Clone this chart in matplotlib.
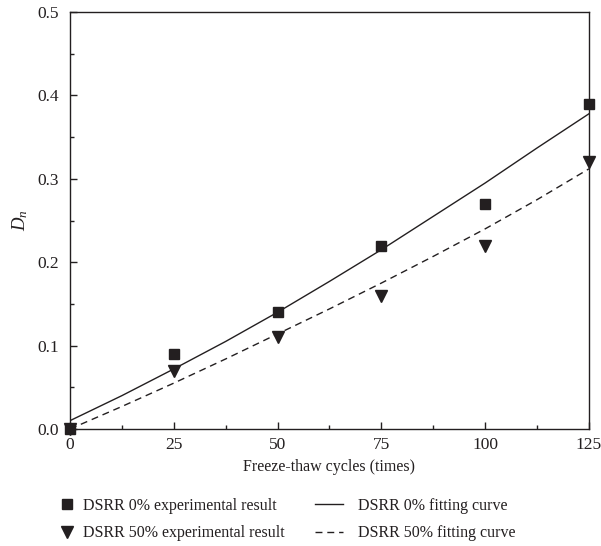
import matplotlib.pyplot as plt
import numpy as np
from matplotlib.ticker import MultipleLocator

plt.rcParams['font.family'] = ['Liberation Serif', 'DejaVu Serif']
plt.rcParams['mathtext.fontset'] = 'custom'
plt.rcParams['mathtext.it'] = 'Liberation Serif:italic'
plt.rcParams['mathtext.rm'] = 'Liberation Serif'

# Datos experimentales
cycles = np.array([0, 25, 50, 75, 100, 125])
dn_0 = np.array([0.0, 0.09, 0.14, 0.22, 0.27, 0.39])
dn_50 = np.array([0.0, 0.07, 0.11, 0.16, 0.22, 0.32])

# Curvas de ajuste
fit_x = np.array([0, 12.5, 25, 37.5, 50, 62.5, 75, 87.5, 100, 112.5, 125])
fit_0 = np.array([0.010, 0.040, 0.072, 0.105, 0.140, 0.177, 0.215, 0.255, 0.295, 0.337, 0.378])
fit_50 = np.array([0.000, 0.027, 0.055, 0.084, 0.114, 0.144, 0.175, 0.207, 0.240, 0.275, 0.312])

c = '#231f20'
fig = plt.figure(figsize=(6.01, 5.46), dpi=100)
ax = fig.add_axes([0.1165, 0.2143, 0.8635, 0.7637])

h1, = ax.plot(cycles, dn_0, 's', color=c, markersize=7, clip_on=False, zorder=3)
h2, = ax.plot(cycles, dn_50, 'v', color=c, markersize=8.5, clip_on=False, zorder=3)
h3, = ax.plot(fit_x, fit_0, '-', color=c, lw=1.0)
h4, = ax.plot(fit_x, fit_50, '--', color=c, lw=1.0, dashes=(5, 3.5))

ax.set_xlim(0, 125)
ax.set_ylim(0, 0.5)
ax.xaxis.set_major_locator(MultipleLocator(25))
ax.xaxis.set_minor_locator(MultipleLocator(12.5))
ax.yaxis.set_major_locator(MultipleLocator(0.1))
ax.yaxis.set_minor_locator(MultipleLocator(0.05))
ax.yaxis.set_major_formatter(plt.FormatStrFormatter('%.1f'))
ax.tick_params(which='both', direction='in', top=False, right=False,
               labelsize=12.5, colors=c, width=1.0)
ax.tick_params(which='major', length=5)
ax.tick_params(which='minor', length=3)
ax.tick_params(axis='y', pad=8)
ax.tick_params(axis='x', pad=6)
for s in ax.spines.values():
    s.set_color(c)
    s.set_linewidth(1.0)

ax.set_xlabel('Freeze-thaw cycles (times)', fontsize=11.5, color=c, labelpad=4)
ax.set_ylabel('$D_n$', fontsize=13.5, color=c, labelpad=5)

common = dict(loc='center left', frameon=False, fontsize=11.5, labelspacing=0.7,
              borderpad=0, borderaxespad=0, labelcolor=c)
leg1 = fig.legend([h1, h2], ['DSRR 0% experimental result', 'DSRR 50% experimental result'],
                  bbox_to_anchor=(60.5 / 601, 0.0485), handlelength=0.8,
                  handletextpad=0.6, **common)
leg2 = fig.legend([h3, h4], ['DSRR 0% fitting curve', 'DSRR 50% fitting curve'],
                  bbox_to_anchor=(315 / 601, 0.0485), handlelength=1.75,
                  handletextpad=0.94, **common)

fig.savefig('out.png', dpi=100)
